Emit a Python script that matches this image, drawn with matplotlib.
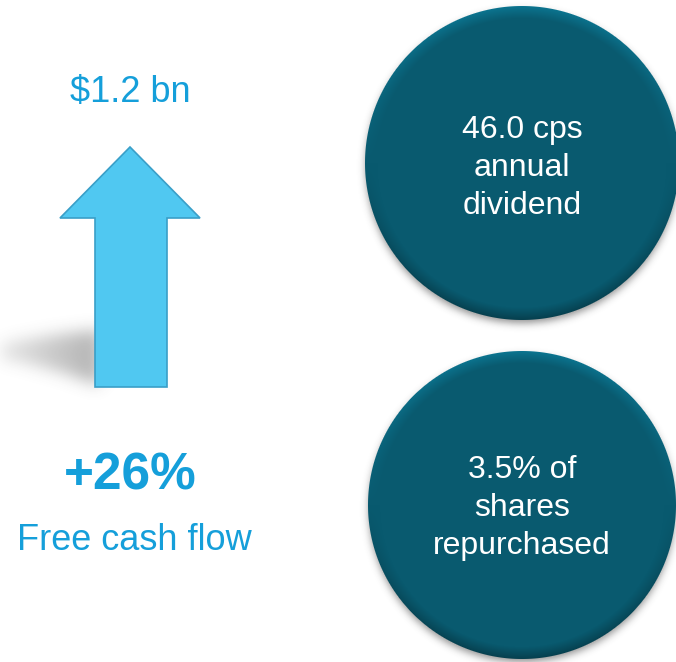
import numpy as np
import matplotlib.pyplot as plt
from matplotlib.patches import Polygon
from matplotlib.path import Path

# canvas in pixels
W, H = 676, 662

# texts shown on the slide
top_value = "$1.2 bn"
growth = "+26%"
growth_label = "Free cash flow"
circle_lines = [["46.0 cps", "annual", "dividend"],
                ["3.5% of", "shares", "repurchased"]]

# layout
circle_centres = [(522, 163), (522, 505)]
circle_radii = [157, 154]
arrow_pts = [(95, 387), (95, 218), (60, 218), (130, 147),
             (200, 218), (167, 218), (167, 387)]

blue_text = "#159FDA"
teal = np.array([9, 90, 111]) / 255.0
font = "Liberation Sans"

yy, xx = np.mgrid[0:H, 0:W] + 0.5


def blur(a, s):
    k = np.exp(-0.5 * (np.arange(-3 * s, 3 * s + 1) / s) ** 2)
    k /= k.sum()
    a = np.apply_along_axis(lambda r: np.convolve(r, k, "same"), 0, a)
    a = np.apply_along_axis(lambda r: np.convolve(r, k, "same"), 1, a)
    return a


fig = plt.figure(figsize=(W / 100, H / 100), dpi=100)
ax = fig.add_axes([0, 0, 1, 1])
ax.set_xlim(0, W)
ax.set_ylim(H, 0)
ax.axis("off")

# soft shadow of the arrow on the ground
pts = np.c_[xx.ravel(), yy.ravel()]
arrow_shadow = Path([(100, 330), (100, 385), (60, 372), (20, 362), (-10, 358),
                     (-10, 346), (20, 340), (60, 334)])
sh = arrow_shadow.contains_points(pts).reshape(H, W).astype(float)
sh = blur(sh, 8) * np.clip(0.35 + 0.65 * xx / 95.0, 0, 1) * 0.42
shade_img = np.zeros((H, W, 4))
shade_img[..., :3] = 0.3
shade_img[..., 3] = sh
ax.imshow(shade_img, extent=(0, W, H, 0), interpolation="bilinear", zorder=1)

# tight shadow under the circles
csh = np.zeros((H, W))
for (cx, cy), r in zip(circle_centres, circle_radii):
    csh += ((xx - cx) ** 2 + (yy - cy - 4) ** 2) <= (r - 1) ** 2
csh = blur(np.clip(csh, 0, 1), 4) * 0.55
cimg = np.zeros((H, W, 4))
cimg[..., :3] = 0.2
cimg[..., 3] = csh
ax.imshow(cimg, extent=(0, W, H, 0), interpolation="bilinear", zorder=1)

# circles with a slight bevel
for (cx, cy), r in zip(circle_centres, circle_radii):
    dx, dy = xx - cx, yy - cy
    d = np.sqrt(dx ** 2 + dy ** 2) / r
    rim = np.clip((d - 0.92) / 0.08, 0, 1)
    shade = 1 - 0.3 * rim * np.clip(dy / r, 0, 1) + 0.3 * rim * np.clip(-dy / r, 0, 1)
    img = np.zeros((H, W, 4))
    img[..., :3] = np.clip(teal[None, None, :] * shade[..., None], 0, 1)
    img[..., 3] = np.clip((1 - d) * r + 0.5, 0, 1)
    ax.imshow(img, extent=(0, W, H, 0), interpolation="bilinear", zorder=2)

# arrow
ax.add_patch(Polygon(arrow_pts, closed=True, facecolor="#50C8F1",
                     edgecolor="#3A9FC8", lw=1.2, zorder=3))

# texts
ax.text(130, 92, top_value, color=blue_text, fontsize=26, family=font,
        ha="center", va="center", zorder=4)
ax.text(130, 476, growth, color=blue_text, fontsize=37, family=font,
        fontweight="bold", ha="center", va="center", zorder=4)
ax.text(134, 541, growth_label, color=blue_text, fontsize=26, family=font,
        ha="center", va="center", zorder=4)

for (cx, cy), lines, mid in zip(circle_centres, circle_lines, [168, 508]):
    for i, line in enumerate(lines):
        ax.text(cx, mid + (i - 1) * 38, line, color="white", fontsize=23,
                family=font, ha="center", va="center", zorder=4)

fig.savefig("out.png", dpi=100)
